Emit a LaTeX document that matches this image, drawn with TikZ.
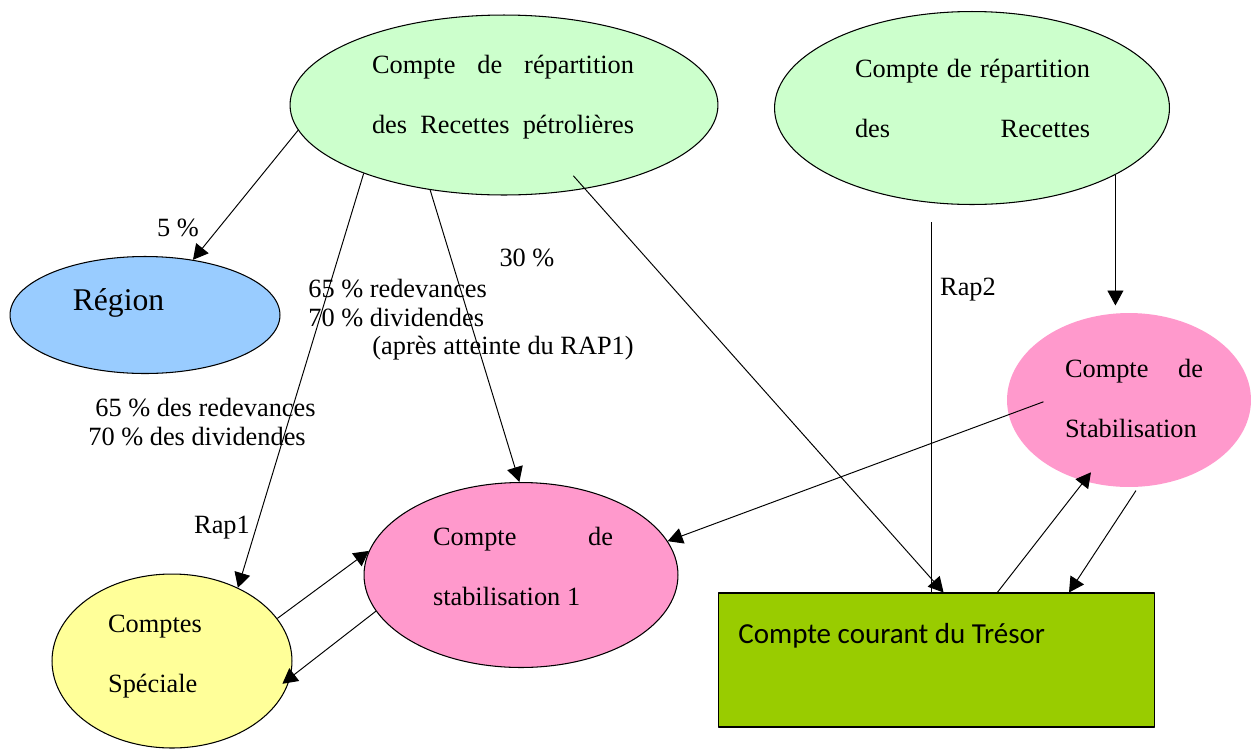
\documentclass[tikz,border=0pt]{standalone}
\usepackage{fontspec}
\setmainfont{Liberation Serif}
\newfontfamily\calibrifont{Carlito}
\usetikzlibrary{shapes.geometric, arrows.meta}

\definecolor{vertclair}{HTML}{CCFFCC}
\definecolor{bleuregion}{HTML}{99CCFF}
\definecolor{rosestab}{HTML}{FF99CC}
\definecolor{jaunespec}{HTML}{FFFF99}
\definecolor{vertolive}{HTML}{99CC00}

\tikzset{
  zone/.style={ellipse, draw, line width=0.6pt, inner sep=0pt},
  fleche/.style={-{Triangle[length=0.3cm, width=0.32cm]}, line width=0.55pt},
  txt/.style={font=\fontsize{15}{34}\selectfont, inner sep=0pt},
  etiq/.style={font=\fontsize{15}{16.5}\selectfont, align=left, inner sep=0pt},
}

\begin{document}
\begin{tikzpicture}[x=0.02cm, y=-0.02cm, line join=round]
    \useasboundingbox (0,0) rectangle (1251,748);

    % les comptes (formes)
    \node[zone, fill=vertclair, minimum width=8.56cm, minimum height=3.6cm] (rep) at (504,105) {};
    \node[zone, fill=vertclair, minimum width=7.9cm, minimum height=3.86cm] (rep2) at (972,108) {};
    \node[zone, fill=bleuregion, minimum width=5.4cm, minimum height=2.34cm] (region) at (145,315) {};
    \node[zone, draw=none, fill=rosestab, minimum width=4.88cm, minimum height=3.48cm] (stab) at (1129,400) {};
    \node[zone, fill=rosestab, minimum width=6.28cm, minimum height=3.7cm] (stab1) at (521,575) {};
    \node[zone, fill=jaunespec, minimum width=4.8cm, minimum height=3.48cm] (spec) at (172,661) {};
    \node[draw, line width=0.6pt, fill=vertolive, minimum width=8.74cm, minimum height=2.68cm] (tresor) at (936.5,660) {};

    % textes des comptes
    \node[txt, align=center] (rep-txt) at (503,97.5)
      {\makebox[5.24cm][s]{Compte de répartition}\\\makebox[5.24cm][s]{des Recettes pétrolières}};
    \node[txt, align=center] (rep2-txt) at (972.5,98.5)
      {\makebox[4.7cm][s]{Compte de répartition}\\\makebox[4.7cm][s]{des \hfill Recettes}};
    \node[txt, font=\fontsize{18}{20}\selectfont] (region-txt) at (118.5,303) {Région};
    \node[txt, align=left] (stab-txt) at (1134,398.5)
      {\makebox[2.76cm][s]{Compte \hfill de}\\Stabilisation};
    \node[txt, align=left] (stab1-txt) at (523,566.5)
      {\makebox[3.6cm][s]{Compte \hfill de}\\stabilisation 1};
    \node[txt, align=left] (spec-txt) at (155,656.5) {Comptes\\Spéciale};
    \node[anchor=west, inner sep=0pt, font=\calibrifont\fontsize{16.5}{18}\selectfont] (tresor-txt) at (738,636)
      {Compte courant du Trésor};

    % étiquettes
    \node[etiq] (lbl-5) at (178,228) {5 \%};
    \node[etiq] (lbl-30) at (527,258) {30 \%};
    \node[etiq, anchor=west] (lbl-redev) at (308,303.5) {65 \% redevances\\70 \% dividendes};
    \node[etiq, anchor=west] (lbl-apres) at (372,348) {(après atteinte du RAP1)};
    \node[etiq, anchor=west] (lbl-des) at (88,422.5) {\hspace*{0.14cm}65 \% des redevances\\70 \% des dividendes};
    \node[etiq] (lbl-rap1) at (222,528) {Rap1};
    \node[etiq] (lbl-rap2) at (968,290) {Rap2};

    % flux
    \draw[fleche] (rep.187) -- (region.49);
    \draw[fleche] (rep.206) -- (spec.48);
    \draw[fleche] (rep.229) -- (stab1.91);
    \draw[fleche, shorten <=-0.35cm] (rep.314) -- (tresor.84);
    \coordinate (rap2-haut) at (931,222);
    \draw[line width=0.55pt] (rap2-haut) -- (rap2-haut |- tresor.north);
    \draw[fleche, shorten >=0.14cm] (rep2.335) -- (rep2.335 |- stab.north);
    \draw[fleche, shorten <=-0.75cm] (stab.187) -- (stab1.13);
    \draw[fleche, shorten >=-0.23cm] (tresor.48) -- (stab.241);
    \draw[fleche, shorten <=0.08cm] (stab.276) -- (tresor.27);
    \draw[fleche] (spec.22) -- (stab1.171);
    \draw[fleche, shorten >=-0.2cm] (stab1.194) -- (spec.352);
\end{tikzpicture}
\end{document}
